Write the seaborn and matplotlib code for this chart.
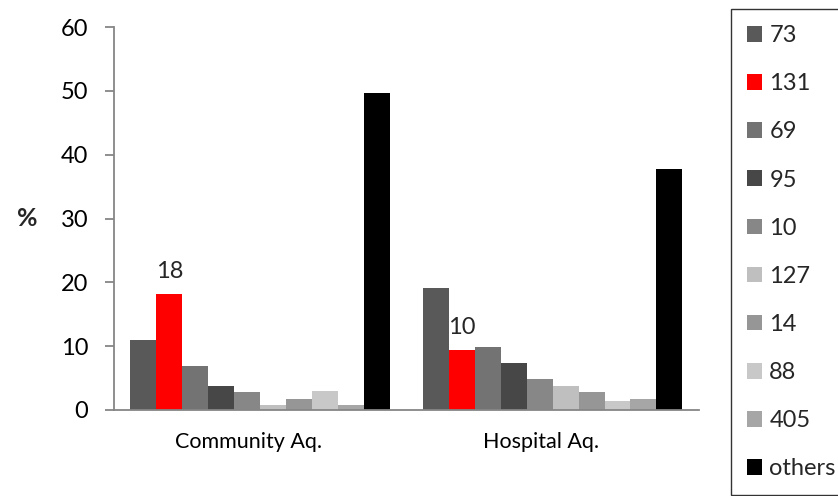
import numpy as np
import pandas as pd
import matplotlib.pyplot as plt
import matplotlib.transforms as mtransforms
import seaborn as sns

# data
groups = ["Community Aq.", "Hospital Aq."]
types = ["73", "131", "69", "95", "10", "127", "14", "88", "405", "others"]
community = [11.0, 18.1, 6.9, 3.8, 2.8, 0.8, 1.8, 2.9, 0.8, 49.6]
hospital = [19.1, 9.4, 9.9, 7.4, 4.9, 3.8, 2.8, 1.35, 1.8, 37.8]
labels_shown = {"Community Aq.": "18", "Hospital Aq.": "10"}

colors = ["#595959", "#ff0000", "#737373", "#474747", "#878787",
          "#bfbfbf", "#969696", "#c8c8c8", "#a6a6a6", "#000000"]

df = pd.DataFrame({
    "group": [groups[0]] * len(types) + [groups[1]] * len(types),
    "type": types * 2,
    "pct": community + hospital,
})

sns.set_style("white")
plt.rcParams["font.family"] = ["Lato", "DejaVu Sans"]
fs = 17

fig = plt.figure(figsize=(8.38, 4.96), dpi=100)
ax = fig.add_axes([0.1360, 0.1734, 0.698, 0.772])

sns.barplot(data=df, x="group", y="pct", hue="type", order=groups,
            hue_order=types, palette=colors, width=0.887, ax=ax,
            linewidth=0, saturation=1, legend=True)

ax.set_ylim(0, 60)
ax.set_xlim(-0.5, 1.5)
ax.set_yticks(range(0, 61, 10))
ax.set_xlabel("")
ax.set_ylabel("%", rotation=0, fontweight="bold", fontsize=fs + 1, va="center")
ax.yaxis.set_label_coords(-0.149, 0.5)

grey = "#868686"
for side in ["top", "right"]:
    ax.spines[side].set_visible(False)
for side in ["left", "bottom"]:
    ax.spines[side].set_color(grey)
    ax.spines[side].set_linewidth(1.3)
ax.tick_params(axis="y", left=True, length=6.5, width=1.3, color=grey,
               pad=12, labelsize=fs, labelcolor="black")
ax.tick_params(axis="x", bottom=False, pad=12, labelsize=15.5,
               labelcolor="black")
shift = mtransforms.ScaledTranslation(-12 / 100, 0, fig.dpi_scale_trans)
for lab in ax.get_xticklabels():
    lab.set_transform(lab.get_transform() + shift)

# value labels above the red bars
red_idx = types.index("131")
for cont_i, cont in enumerate(ax.containers):
    if cont_i != red_idx:
        continue
    for gi, bar in enumerate(cont):
        ax.annotate(labels_shown[groups[gi]],
                    (bar.get_x() + bar.get_width() / 2, bar.get_height()),
                    xytext=(0, 9), textcoords="offset points",
                    ha="center", va="bottom", fontsize=fs)

leg = ax.legend(loc="upper left", bbox_to_anchor=(731 / 838, 1 - 9 / 496),
                bbox_transform=fig.transFigure, frameon=True, fancybox=False,
                handlelength=0.64, handleheight=0.64, handletextpad=0.3,
                labelspacing=1.15, borderpad=0.68, borderaxespad=0,
                fontsize=fs)
leg.get_frame().set_edgecolor("black")
leg.get_frame().set_linewidth(1.0)

fig.savefig("out.png", dpi=100)
